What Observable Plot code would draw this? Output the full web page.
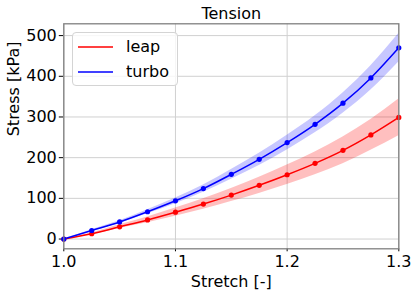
<!DOCTYPE html>
<html>
<head>
<meta charset="utf-8">
<script src="https://cdn.jsdelivr.net/npm/d3@7"></script>
<script src="https://cdn.jsdelivr.net/npm/@observablehq/plot@0.6"></script>
<style>
  html, body { margin: 0; padding: 0; background: #fff; }
  #wrap { position: relative; width: 418px; height: 297px; font-family: "DejaVu Sans", sans-serif; }
  #wrap svg text { font-family: "DejaVu Sans", sans-serif; font-size: 16px; }
  #legend { position: absolute; left: 72px; top: 32px; width: 106px; height: 54px;
    background: rgba(255,255,255,0.8); border: 1px solid #d4d4d4; border-radius: 4px;
    font-family: "DejaVu Sans", sans-serif; font-size: 16px; color: #000; box-sizing: border-box; }
  .item { position: absolute; left: 5px; height: 20px; display: flex; align-items: center; white-space: nowrap; }
  .item svg { display: block; }
  .item span { margin-left: 13px; }
</style>
</head>
<body>
<div id="wrap"></div>
<script>
const stretch = [1.0, 1.025, 1.05, 1.075, 1.1, 1.125, 1.15, 1.175, 1.2, 1.225, 1.25, 1.275, 1.3];
const leap    = [0, 13, 30, 47, 66, 86, 108, 132, 158, 186, 218, 256, 299];
const leapLo  = [0, 11, 26, 40, 56, 73, 92, 112, 134, 158, 185, 218, 254];
const leapHi  = [0, 15, 35, 54, 76, 99, 124, 152, 182, 214, 251, 294, 344];
const turbo   = [0, 21, 42, 67, 94, 124, 159, 196, 237, 282, 334, 396, 470];
const turboLo = [0, 19, 39, 62, 87, 115, 147, 181, 219, 261, 309, 366, 435];
const turboHi = [0, 23, 45, 72, 101, 133, 171, 211, 255, 303, 359, 426, 505];
const xTicks = [1.0, 1.1, 1.2, 1.3];
const yTicks = [0, 100, 200, 300, 400, 500];
const seriesNames = ["leap", "turbo"];
const seriesColors = ["red", "blue"];
const titleText = "Tension";
const xLabel = "Stretch [-]";
const yLabel = "Stress [kPa]";

const rows = [];
stretch.forEach((s, i) => {
  rows.push({series: "leap", x: s, y: leap[i], lo: leapLo[i], hi: leapHi[i]});
  rows.push({series: "turbo", x: s, y: turbo[i], lo: turboLo[i], hi: turboHi[i]});
});
const leapRows = rows.filter(d => d.series === "leap");
const turboRows = rows.filter(d => d.series === "turbo");

const chart = Plot.plot({
  width: 418,
  height: 297,
  marginLeft: 63.3,
  marginRight: 19.7,
  marginTop: 23.3,
  marginBottom: 48.7,
  style: {fontFamily: "DejaVu Sans, sans-serif", fontSize: "16px", color: "black", background: "white"},
  x: {domain: [1.0, 1.3], ticks: xTicks, tickFormat: d3.format(".1f"), tickSize: 3, tickPadding: 3.7, label: null},
  y: {domain: [-24, 529], ticks: yTicks, tickFormat: d3.format("d"), tickSize: 4.5, tickPadding: 2.5, label: null},
  marks: [
    Plot.ruleX(xTicks, {stroke: "#d0d0d0", strokeWidth: 1}),
    Plot.ruleY(yTicks, {stroke: "#d0d0d0", strokeWidth: 1}),
    Plot.areaY(leapRows, {x: "x", y1: "lo", y2: "hi", fill: seriesColors[0], fillOpacity: 0.25, curve: "monotone-x"}),
    Plot.areaY(turboRows, {x: "x", y1: "lo", y2: "hi", fill: seriesColors[1], fillOpacity: 0.22, curve: "monotone-x"}),
    Plot.line(leapRows, {x: "x", y: "y", stroke: seriesColors[0], strokeWidth: 1.5, curve: "monotone-x"}),
    Plot.line(turboRows, {x: "x", y: "y", stroke: seriesColors[1], strokeWidth: 1.5, curve: "monotone-x"}),
    Plot.dot(leapRows, {x: "x", y: "y", fill: seriesColors[0], r: 2.6}),
    Plot.dot(turboRows, {x: "x", y: "y", fill: seriesColors[1], r: 2.6}),
    Plot.frame({stroke: "#808080", strokeWidth: 1.3}),
    Plot.text([titleText], {frameAnchor: "top", lineAnchor: "middle", dy: -9.9, fontSize: 16, fill: "black"}),
    Plot.text([xLabel], {frameAnchor: "bottom", lineAnchor: "middle", dy: 33.3, fontSize: 16, fill: "black"}),
    Plot.text([yLabel], {frameAnchor: "left", lineAnchor: "middle", dx: -50.1, rotate: -90, fontSize: 16, fill: "black"})
  ]
});
const wrap = document.getElementById("wrap");
wrap.appendChild(chart);

const legend = document.createElement("div");
legend.id = "legend";
seriesNames.forEach((name, i) => {
  const item = document.createElement("div");
  item.className = "item";
  item.style.top = (3.5 + i * 25) + "px";
  item.innerHTML = `<svg width="35" height="4"><line x1="0" x2="35" y1="2" y2="2" stroke="${seriesColors[i]}" stroke-width="1.5"/></svg><span>${name}</span>`;
  legend.appendChild(item);
});
wrap.appendChild(legend);
</script>
</body>
</html>
